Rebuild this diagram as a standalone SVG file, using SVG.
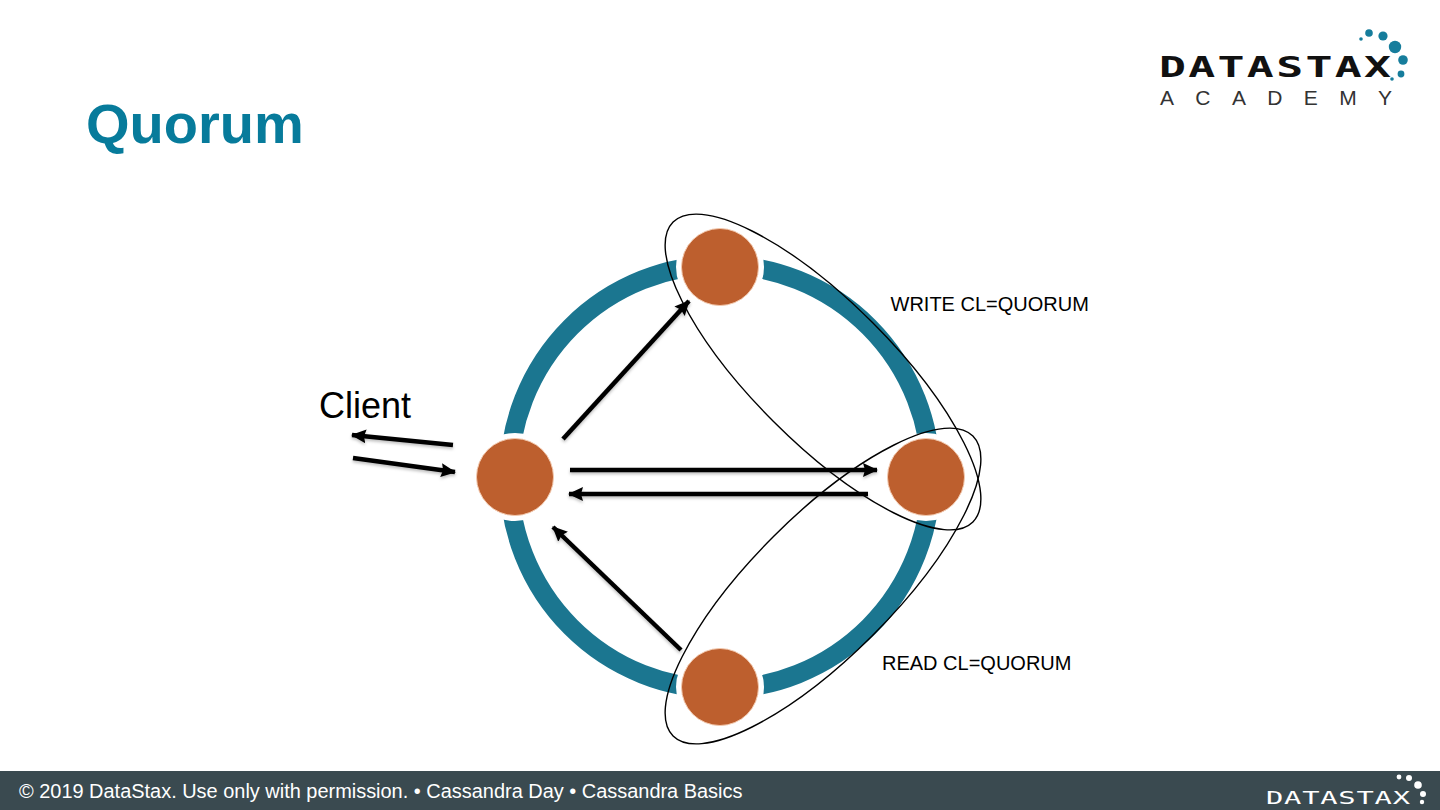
<svg xmlns="http://www.w3.org/2000/svg" width="1440" height="810" viewBox="0 0 1440 810">
<style>
text{font-family:"Liberation Sans",Arial,sans-serif;fill:#000}
.logo{font-family:"DejaVu Sans Mono",monospace}
.node{fill:#bd5f2e;stroke:#f3c9ae;stroke-width:1}
.halo{fill:#fff}
.arrow{stroke:#000;stroke-width:4.5;fill:none;marker-end:url(#ah)}
.oval{fill:none;stroke:#000;stroke-width:1.4}
.dot{fill:#167d9c}
.fdot{fill:#fff}
</style>
<defs>
<marker id="ah" markerUnits="userSpaceOnUse" markerWidth="16" markerHeight="16" refX="14" refY="8" orient="auto"><path d="M0 1L15 8L0 15L2 8Z" fill="#000"/></marker>
<filter id="sh" x="-20%" y="-20%" width="140%" height="140%"><feDropShadow dx="0" dy="2" stdDeviation="1.5" flood-color="#000" flood-opacity=".25"/></filter>
</defs>
<rect width="1440" height="810" fill="#fff"/>
<text x="86" y="143" font-size="56" font-weight="700" style="fill:#077b9b">Quorum</text>
<g id="logo-academy">
<text class="logo" transform="translate(1159 77) scale(1.6 1)" x="0" y="0" font-size="28" font-weight="700" textLength="145" lengthAdjust="spacing" style="fill:#111">DATASTAX</text>
<text x="1160" y="105" font-size="21" textLength="232" lengthAdjust="spacing" style="fill:#333">ACADEMY</text>
<circle class="dot" cx="1369" cy="33" r="3.8"/><circle class="dot" cx="1383" cy="36" r="4.6"/><circle class="dot" cx="1395" cy="47" r="6.2"/><circle class="dot" cx="1403" cy="60" r="4.8"/><circle class="dot" cx="1401" cy="74" r="3.4"/><circle class="dot" cx="1392" cy="79" r="1.8"/><circle class="dot" cx="1361" cy="39" r="1.8"/>
</g>
<ellipse id="ring" cx="720" cy="477" rx="211" ry="212" fill="none" stroke="#1b7690" stroke-width="19"/>
<g id="connectors" filter="url(#sh)">
<line class="arrow" x1="563" y1="439" x2="689" y2="301"/>
<line class="arrow" x1="570" y1="470" x2="877" y2="470"/>
<line class="arrow" x1="868" y1="494" x2="569" y2="494"/>
<line class="arrow" x1="681" y1="650" x2="553" y2="527"/>
<line class="arrow" x1="453" y1="445" x2="352" y2="435"/>
<line class="arrow" x1="353" y1="458" x2="455" y2="472"/>
</g>
<g id="node-top"><circle class="halo" cx="720" cy="267" r="44"/><circle class="node" cx="720" cy="267" r="38.5"/></g>
<g id="node-left"><circle class="halo" cx="515" cy="477" r="44"/><circle class="node" cx="515" cy="477" r="38.5"/></g>
<g id="node-right"><circle class="halo" cx="926" cy="477" r="44"/><circle class="node" cx="926" cy="477" r="38.5"/></g>
<g id="node-bottom"><circle class="halo" cx="720" cy="687" r="44"/><circle class="node" cx="720" cy="687" r="38.5"/></g>
<g id="ovals">
<ellipse class="oval" cx="823" cy="372" rx="212" ry="70" transform="rotate(45 823 372)"/>
<ellipse class="oval" cx="823" cy="586" rx="212" ry="70" transform="rotate(-45 823 586)"/>
</g>
<text x="890.5" y="311" font-size="20">WRITE CL=QUORUM</text>
<text x="882" y="670" font-size="20">READ CL=QUORUM</text>
<text x="319" y="418" font-size="36">Client</text>
<g id="footer">
<rect y="771" width="1440" height="39" fill="#3a4a50"/>
<text x="19" y="798" font-size="19.95" style="fill:#fff">© 2019 DataStax. Use only with permission. • Cassandra Day • Cassandra Basics</text>
<text class="logo" transform="translate(1266 804) scale(1.6 1)" x="0" y="0" font-size="18" textLength="90" lengthAdjust="spacing" style="fill:#fff">DATASTAX</text>
<circle class="fdot" cx="1399" cy="777" r="2.4"/><circle class="fdot" cx="1409" cy="778" r="3"/><circle class="fdot" cx="1418" cy="785" r="3.8"/><circle class="fdot" cx="1423" cy="794" r="3"/><circle class="fdot" cx="1422" cy="802" r="2.2"/>
</g>
</svg>
